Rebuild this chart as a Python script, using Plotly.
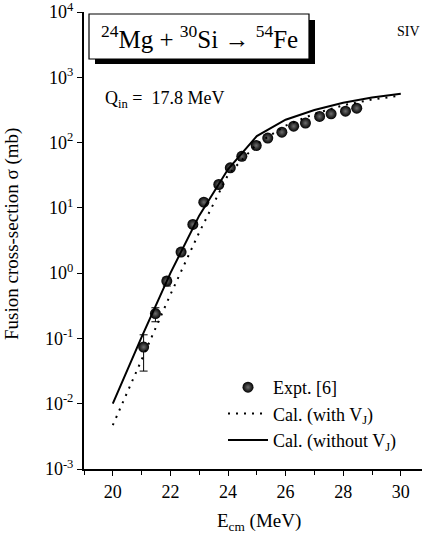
import plotly.graph_objects as go

# ---------------- data ----------------
expt_E = [21.07, 21.48, 21.875, 22.37, 22.78, 23.16, 23.68, 24.08, 24.48, 24.98,
          25.38, 25.87, 26.28, 26.69, 27.18, 27.58, 28.08, 28.47]
expt_sigma = [0.0736, 0.24, 0.755, 2.1, 5.57, 12.2, 22.8, 41, 61.6, 90,
              117, 144, 178, 199, 251, 276, 302, 336]
expt_err_plus = [0.040, 0.055, 0.11] + [0] * 15
expt_err_minus = [0.042, 0.060, 0.12] + [0] * 15

cal_E = [20, 21, 22, 23, 24, 25, 26, 27, 28, 29, 30]
cal_with_VJ = [0.0047, 0.047, 0.47, 4.2, 32, 95, 182, 275, 372, 457, 525]
cal_without_VJ = [0.010, 0.105, 1.0, 7.6, 39, 126, 224, 316, 407, 490, 559]

x_major = [20, 22, 24, 26, 28, 30]
x_minor = [19, 21, 23, 25, 27, 29]
y_tickvals = [1e-3, 1e-2, 1e-1, 1e0, 1e1, 1e2, 1e3, 1e4]
y_ticktext = ["10<sup>-3</sup>", "10<sup>-2</sup>", "10<sup>-1</sup>", "10<sup>0</sup>",
              "10<sup>1</sup>", "10<sup>2</sup>", "10<sup>3</sup>", "10<sup>4</sup>"]

FONT = "Liberation Serif"
W, H = 422, 537
L, R, T, B = 84, 0, 12, 68
PW, PH = W - L - R, H - T - B
X_RANGE = [19, 19 + PW / 28.8]


def px(x):
    return (x - L) / PW


def py(y):
    return (H - B - y) / PH


fig = go.Figure()

fig.add_trace(go.Scatter(
    x=expt_E, y=expt_sigma, mode="markers", name="Expt. [6]",
    marker=dict(size=11, color="black",
                gradient=dict(type="radial", color="#6e6e6e"),
                line=dict(width=0)),
    error_y=dict(type="data", symmetric=False, array=expt_err_plus,
                 arrayminus=expt_err_minus, color="black", thickness=1, width=4),
))
fig.add_trace(go.Scatter(
    x=cal_E, y=cal_with_VJ, mode="lines", name="Cal. (with V<sub>J</sub>)",
    line=dict(color="black", width=2, dash="2px,6px"),
))
fig.add_trace(go.Scatter(
    x=cal_E, y=cal_without_VJ, mode="lines", name="Cal. (without V<sub>J</sub>)",
    line=dict(color="black", width=2),
))

# title box with shadow
fig.add_shape(type="rect", xref="paper", yref="paper",
              x0=px(95), x1=px(315), y0=py(64), y1=py(20),
              fillcolor="black", line=dict(width=0))
fig.add_shape(type="rect", xref="paper", yref="paper",
              x0=px(89), x1=px(309), y0=py(59), y1=py(14),
              fillcolor="white", line=dict(color="black", width=1.2))

fig.add_annotation(xref="paper", yref="paper", x=px(199), y=py(37),
                   text="<sup>24</sup>Mg + <sup>30</sup>Si \u2192 <sup>54</sup>Fe",
                   showarrow=False, font=dict(family=FONT, size=25, color="black"),
                   xanchor="center", yanchor="middle")
fig.add_annotation(xref="paper", yref="paper", x=px(395), y=py(31),
                   text="SIV", showarrow=False,
                   font=dict(family=FONT, size=14, color="black"),
                   xanchor="left", yanchor="middle")
fig.add_annotation(xref="paper", yref="paper", x=px(103), y=py(100),
                   text="Q<sub>in</sub> =  17.8 MeV", showarrow=False,
                   font=dict(family=FONT, size=18, color="black"),
                   xanchor="left", yanchor="middle")
# axis titles
fig.add_annotation(xref="paper", yref="paper", x=px(12), y=py(234),
                   text="Fusion cross-section \u03c3 (mb)", textangle=-90,
                   showarrow=False, font=dict(family=FONT, size=19, color="black"),
                   xanchor="center", yanchor="middle")
fig.add_annotation(xref="paper", yref="paper", x=px(259), y=py(522),
                   text="E<sub>cm</sub> (MeV)", showarrow=False,
                   font=dict(family=FONT, size=19, color="black"),
                   xanchor="center", yanchor="middle")

fig.update_layout(
    width=W, height=H,
    margin=dict(l=L, r=R, t=T, b=B, pad=0, autoexpand=False),
    paper_bgcolor="white", plot_bgcolor="white",
    font=dict(family=FONT, size=18, color="black"),
    showlegend=True,
    legend=dict(x=px(223), y=py(369), xanchor="left", yanchor="top",
                bgcolor="rgba(0,0,0,0)", font=dict(family=FONT, size=18),
                tracegroupgap=0, itemwidth=40),
    xaxis=dict(range=X_RANGE, showgrid=False, zeroline=False,
               automargin=False,
               showline=True, linecolor="black", linewidth=2,
               ticks="outside", ticklen=5, tickwidth=1, tickcolor="black",
               tickvals=x_major,
               minor=dict(tickvals=x_minor, ticks="outside",
                          ticklen=4, tickcolor="black", showgrid=False),
               tickfont=dict(family=FONT, size=18)),
    xaxis2=dict(range=X_RANGE, overlaying="x", side="top", anchor="y",
                showgrid=False, zeroline=False, automargin=False,
                showline=True, linecolor="black", linewidth=2,
                ticks="inside", ticklen=5, tickwidth=1, tickcolor="black",
                tickvals=x_major, showticklabels=False,
                minor=dict(tickvals=x_minor, ticks="inside",
                           ticklen=4, tickcolor="black", showgrid=False)),
    yaxis=dict(type="log", range=[-3, 4], showgrid=False, zeroline=False,
               automargin=False, ticklabeloverflow="allow",
               showline=True, linecolor="black", linewidth=2,
               ticks="outside", ticklen=5, tickwidth=1, tickcolor="black",
               tickvals=y_tickvals, ticktext=y_ticktext,
               tickfont=dict(family=FONT, size=18)),
)

fig.write_html(
    "out.html",
    config={"displayModeBar": False},
    post_script="document.body.style.margin='0';document.body.style.overflow='hidden';",
)
